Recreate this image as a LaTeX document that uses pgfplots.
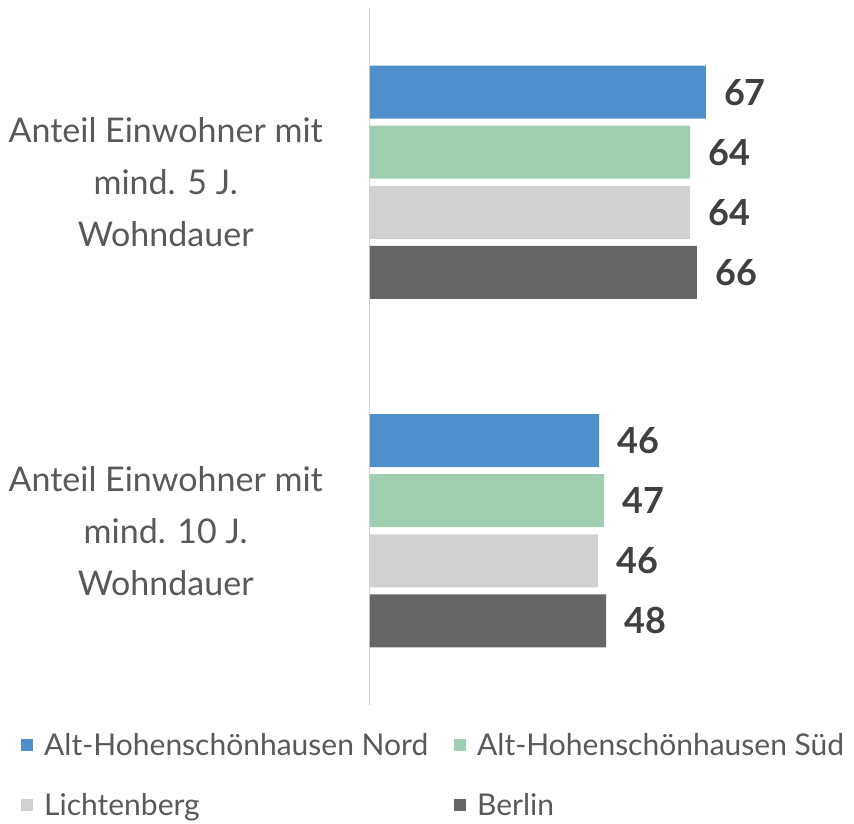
\documentclass[border=0pt]{standalone}
\usepackage{fontspec}
\setmainfont{Lato}
\usepackage{pgfplots}
\pgfplotsset{compat=1.18}
\definecolor{cNord}{HTML}{4F8FCC}
\definecolor{cSued}{HTML}{9ECFB1}
\definecolor{cLich}{HTML}{D0D0D0}
\definecolor{cBerl}{HTML}{666666}
\definecolor{catgray}{HTML}{595959}
\definecolor{lblgray}{HTML}{404040}
\definecolor{axisgray}{HTML}{D0D0D0}
\begin{document}
\begin{tikzpicture}
\path[use as bounding box] (-370pt,-119pt) rectangle (484pt,705pt);
\begin{axis}[
  at={(0pt,0pt)}, anchor=south west,
  scale only axis, width=484pt, height=697pt,
  xbar, bar width=0.152,
  xmin=0, xmax=97.4, ymin=-0.5, ymax=1.5, y dir=reverse,
  axis x line=none, axis y line*=left,
  y axis line style={draw=axisgray, line width=1pt},
  ytick={0,1}, ytick style={draw=none},
  yticklabels={Anteil Einwohner mit\\mind. 5 J.\\Wohndauer, Anteil Einwohner mit\\mind. 10 J.\\Wohndauer},
  yticklabel style={align=center, anchor=center, xshift=-200pt, text=catgray,
    font=\fontsize{34pt}{52pt}\selectfont},
  point meta=explicit,
  nodes near coords={\pgfmathprintnumber[assume math mode=true]{\pgfplotspointmeta}},
  every node near coord/.append style={anchor=west, inner sep=0pt, xshift=18pt,
    text=lblgray, font=\fontsize{36pt}{40pt}\selectfont\bfseries},
  legend style={at={(rel axis cs:-0.7273,-0.034)}, anchor=north west, draw=none, fill=none,
    font=\fontsize{30pt}{33pt}\selectfont, text=catgray, row sep=33pt,
    /tikz/every odd column/.append style={column sep=9pt},
    /tikz/every even column/.append style={column sep=24pt}},
  legend columns=2, legend cell align=left,
  legend image code/.code={\fill[#1] (0pt,-6pt) rectangle (12pt,6pt);},
]
\addplot[fill=cNord, draw=none, bar shift=-0.2586] coordinates {(67.6,0) [67] (46.1,1) [46]};
\addlegendentry{Alt-Hohenschönhausen Nord}
\addplot[fill=cSued, draw=none, bar shift=-0.0862] coordinates {(64.4,0) [64] (47.1,1) [47]};
\addlegendentry{Alt-Hohenschönhausen Süd}
\addplot[fill=cLich, draw=none, bar shift=0.0862] coordinates {(64.4,0) [64] (45.9,1) [46]};
\addlegendentry{Lichtenberg}
\addplot[fill=cBerl, draw=none, bar shift=0.2586] coordinates {(65.8,0) [66] (47.5,1) [48]};
\addlegendentry{Berlin}
\end{axis}
\end{tikzpicture}
\end{document}
